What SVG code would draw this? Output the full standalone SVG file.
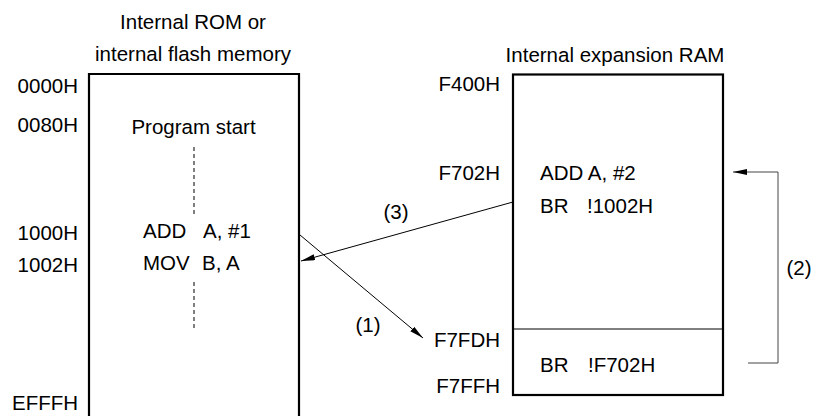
<svg xmlns="http://www.w3.org/2000/svg" width="814" height="416" viewBox="0 0 814 416">
<style>
text{font-family:"Liberation Sans",Arial,sans-serif;font-size:20.5px;fill:#000}
.e{text-anchor:end}
.m{text-anchor:middle}
.box{fill:#fff;stroke:#000;stroke-width:2.2}
.ln{stroke:#000;stroke-width:1;fill:none}
.dash{stroke:#000;stroke-width:1;stroke-dasharray:4 3;fill:none}
.br{stroke:#444;stroke-width:1;fill:none}
</style>
<defs>
<marker id="ah" markerUnits="userSpaceOnUse" markerWidth="15" markerHeight="7" refX="14" refY="3" orient="auto">
<path d="M0,0 L14,3 L0,6 z" fill="#000"/>
</marker>
</defs>
<rect width="814" height="416" fill="#fff"/>
<g id="rom">
<text class="m" x="193" y="29">Internal ROM or</text>
<text class="m" x="193" y="61">internal flash memory</text>
<path class="box" d="M89,417 V74 H299 V417"/>
<text class="e" x="78" y="93">0000H</text>
<text class="e" x="78" y="132">0080H</text>
<text class="e" x="78" y="240">1000H</text>
<text class="e" x="78" y="272">1002H</text>
<text class="e" x="78" y="410">EFFFH</text>
<text class="m" x="193.5" y="134">Program start</text>
<line class="dash" x1="194" y1="147" x2="194" y2="216"/>
<text x="143" y="238">ADD</text>
<text x="203" y="238">A, #1</text>
<text x="143" y="270">MOV</text>
<text x="202" y="270">B, A</text>
<line class="dash" x1="194" y1="282" x2="194" y2="328"/>
</g>
<g id="ram">
<text class="m" x="615" y="62">Internal expansion RAM</text>
<rect class="box" x="513" y="74.5" width="210" height="320.5"/>
<line class="ln" x1="513" y1="329" x2="723" y2="329"/>
<text class="e" x="500" y="91">F400H</text>
<text class="e" x="500" y="180">F702H</text>
<text class="e" x="500" y="347">F7FDH</text>
<text class="e" x="500" y="393">F7FFH</text>
<text x="540" y="180">ADD A, #2</text>
<text x="540" y="213">BR</text>
<text x="587" y="213">!1002H</text>
<text x="540" y="372">BR</text>
<text x="588" y="372">!F702H</text>
</g>
<g id="connectors">
<line class="ln" x1="300" y1="235" x2="423" y2="338" marker-end="url(#ah)"/>
<text class="m" x="368" y="332">(1)</text>
<line class="ln" x1="513" y1="202" x2="301" y2="261" marker-end="url(#ah)"/>
<text class="m" x="396" y="219">(3)</text>
<polyline class="br" points="748,363 778,363 778,172 733,172" marker-end="url(#ah)"/>
<text class="m" x="799" y="275">(2)</text>
</g>
</svg>
